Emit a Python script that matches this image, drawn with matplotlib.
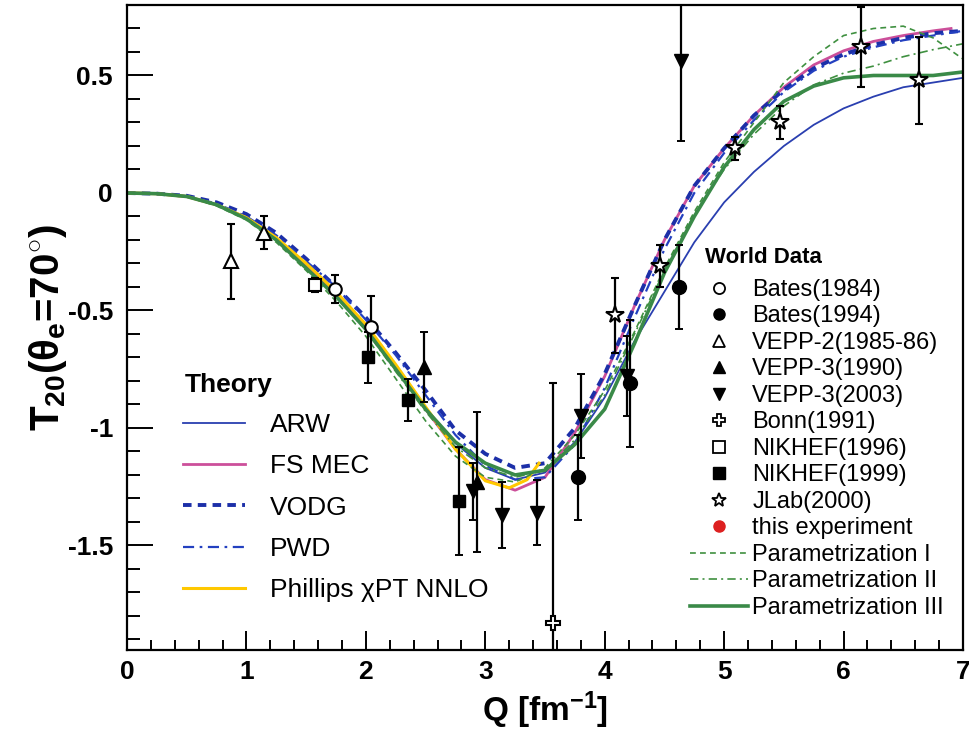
import matplotlib
matplotlib.use('Agg')
import matplotlib.pyplot as plt
from matplotlib.ticker import MultipleLocator, FuncFormatter

plt.rcParams['font.family'] = ['Liberation Sans', 'DejaVu Sans']
plt.rcParams['axes.unicode_minus'] = False
plt.rcParams['mathtext.fontset'] = 'custom'
plt.rcParams['mathtext.rm'] = 'Liberation Sans:bold'
plt.rcParams['mathtext.it'] = 'Liberation Sans:bold'
plt.rcParams['mathtext.bf'] = 'Liberation Sans:bold'

# theory curves (Q in fm^-1)
q_grid = [0, 0.25, 0.5, 0.75, 1.0, 1.25, 1.5, 1.75, 2.0, 2.25, 2.5, 2.75, 3.0, 3.25, 3.5,
          3.75, 4.0, 4.25, 4.5, 4.75, 5.0, 5.25, 5.5, 5.75, 6.0, 6.25, 6.5, 6.75, 7.0]
arw = [0, -0.003, -0.015, -0.05, -0.11, -0.2, -0.315, -0.435, -0.575, -0.745, -0.915, -1.065, -1.17, -1.22, -1.19,
       -1.06, -0.87, -0.63, -0.42, -0.21, -0.04, 0.09, 0.2, 0.29, 0.36, 0.41, 0.45, 0.47, 0.49]
fs_mec = [0, -0.003, -0.015, -0.05, -0.105, -0.195, -0.31, -0.43, -0.57, -0.74, -0.92, -1.09, -1.22, -1.265, -1.21,
          -1.02, -0.78, -0.48, -0.2, 0.03, 0.19, 0.33, 0.45, 0.545, 0.605, 0.645, 0.67, 0.69, 0.70]
vodg = [0, -0.003, -0.012, -0.04, -0.09, -0.17, -0.28, -0.4, -0.53, -0.68, -0.84, -1.01, -1.11, -1.17, -1.15,
        -1.0, -0.77, -0.48, -0.2, 0.03, 0.19, 0.33, 0.44, 0.53, 0.59, 0.63, 0.66, 0.68, 0.69]
pwd = [0, -0.003, -0.013, -0.045, -0.1, -0.18, -0.29, -0.4, -0.54, -0.69, -0.86, -1.03, -1.16, -1.22, -1.21,
       -1.07, -0.83, -0.53, -0.24, 0.0, 0.17, 0.31, 0.43, 0.52, 0.58, 0.62, 0.65, 0.67, 0.69]
par1 = [0, -0.003, -0.016, -0.055, -0.115, -0.21, -0.33, -0.46, -0.61, -0.79, -0.97, -1.12, -1.21, -1.23, -1.17,
        -1.03, -0.84, -0.59, -0.32, -0.08, 0.13, 0.3, 0.47, 0.58, 0.67, 0.70, 0.71, 0.66, 0.57]
par2 = [0, -0.003, -0.015, -0.05, -0.11, -0.2, -0.32, -0.44, -0.585, -0.76, -0.93, -1.08, -1.17, -1.21, -1.18,
        -1.05, -0.86, -0.6, -0.33, -0.09, 0.1, 0.25, 0.37, 0.46, 0.51, 0.54, 0.58, 0.61, 0.635]
par3 = [0, -0.003, -0.015, -0.05, -0.11, -0.2, -0.32, -0.44, -0.58, -0.75, -0.92, -1.06, -1.15, -1.2, -1.18,
        -1.07, -0.92, -0.64, -0.34, -0.1, 0.11, 0.27, 0.39, 0.455, 0.49, 0.5, 0.5, 0.5, 0.515]
q_fs = q_grid[:-1] + [6.9]
q_phil = [0, 0.25, 0.5, 0.75, 1.0, 1.25, 1.5, 1.75, 2.0, 2.25, 2.5, 2.75, 3.0, 3.2, 3.35, 3.45]
phillips = [0, -0.003, -0.015, -0.05, -0.105, -0.19, -0.3, -0.42, -0.56, -0.73, -0.91, -1.09, -1.225, -1.255, -1.22, -1.15]

# world data: Q, T20, error
bates84_q = [1.74, 2.04]
bates84_t = [-0.41, -0.57]
bates84_e = [0.06, 0.13]
bates94_q = [3.78, 4.21, 4.62]
bates94_t = [-1.21, -0.81, -0.40]
bates94_e = [0.18, 0.27, 0.18]
vepp2_q = [0.87, 1.15]
vepp2_t = [-0.29, -0.17]
vepp2_e = [0.16, 0.07]
vepp3a_q = [2.49, 2.93]
vepp3a_t = [-0.74, -1.23]
vepp3a_e = [0.15, 0.30]
vepp3b_q = [2.90, 3.14, 3.43, 3.80, 4.19, 4.64]
vepp3b_t = [-1.27, -1.37, -1.36, -0.95, -0.78, 0.56]
vepp3b_e = [0.12, 0.14, 0.14, 0.18, 0.17, 0.34]
bonn_q = [3.57]
bonn_t = [-1.83]
bonn_e = [1.02]
nik96_q = [1.57]
nik96_t = [-0.39]
nik96_e = [0.03]
nik99_q = [2.02, 2.35, 2.78]
nik99_t = [-0.70, -0.88, -1.31]
nik99_e = [0.11, 0.09, 0.23]
jlab_q = [4.09, 4.46, 5.09, 5.47, 6.15, 6.63]
jlab_t = [-0.52, -0.31, 0.19, 0.30, 0.62, 0.48]
jlab_e = [0.16, 0.09, 0.05, 0.07, 0.17, 0.185]

theory_labels = ['ARW', 'FS MEC', 'VODG', 'PWD', 'Phillips χPT NNLO']
world_labels = ['Bates(1984)', 'Bates(1994)', 'VEPP-2(1985-86)', 'VEPP-3(1990)', 'VEPP-3(2003)',
                'Bonn(1991)', 'NIKHEF(1996)', 'NIKHEF(1999)', 'JLab(2000)', 'this experiment',
                'Parametrization I', 'Parametrization II', 'Parametrization III']

fig = plt.figure(figsize=(9.69, 7.4), dpi=100)
ax = fig.add_axes([127 / 969, 90 / 740, 836 / 969, 645 / 740])

# theory
h_arw, = ax.plot(q_grid, arw, color='#2a3fb0', lw=1.3)
h_fs, = ax.plot(q_fs, fs_mec, color='#cc4f9a', lw=2.0)
h_vodg, = ax.plot(q_grid, vodg, color='#1c2fa8', lw=2.8, dashes=(2.2, 1.6))
h_pwd, = ax.plot(q_grid, pwd, color='#2340c0', lw=1.6, dashes=(5, 2.5, 1.2, 2.5))
h_phil, = ax.plot(q_phil, phillips, color='#ffc800', lw=2.2)
h_p1, = ax.plot(q_grid, par1, color='#3f9040', lw=1.2, dashes=(3.5, 2.5))
h_p2, = ax.plot(q_grid, par2, color='#3f9040', lw=1.2, dashes=(5, 2.5, 1.2, 2.5))
h_p3, = ax.plot(q_grid, par3, color='#3a8a48', lw=2.6)

eb = dict(color='k', ecolor='k', elinewidth=1.6, capsize=3, capthick=1.4, linestyle='none', zorder=5)
open_kw = dict(markerfacecolor='white', markeredgecolor='k', markeredgewidth=1.5)
ax.errorbar(bates84_q, bates84_t, yerr=bates84_e, marker='o', ms=9, **open_kw, **eb)
ax.errorbar(bates94_q, bates94_t, yerr=bates94_e, marker='o', ms=10, **eb)
ax.errorbar(vepp2_q, vepp2_t, yerr=vepp2_e, marker='^', ms=10, **open_kw, **eb)
ax.errorbar(vepp3a_q, vepp3a_t, yerr=vepp3a_e, marker='^', ms=10, **eb)
ax.errorbar(vepp3b_q, vepp3b_t, yerr=vepp3b_e, marker='v', ms=10, **eb)
ax.errorbar(bonn_q, bonn_t, yerr=bonn_e, marker='P', ms=10, **open_kw, **eb)
ax.errorbar(nik96_q, nik96_t, yerr=nik96_e, marker='s', ms=9, **open_kw, **eb)
ax.errorbar(nik99_q, nik99_t, yerr=nik99_e, marker='s', ms=9, **eb)
ax.errorbar(jlab_q, jlab_t, yerr=jlab_e, marker='*', ms=13, **open_kw, **eb)

ax.set_xlim(0, 7)
ax.set_ylim(-1.945, 0.8)

ax.xaxis.set_major_locator(MultipleLocator(1))
ax.xaxis.set_minor_locator(MultipleLocator(0.2))
ax.yaxis.set_major_locator(MultipleLocator(0.5))
ax.yaxis.set_minor_locator(MultipleLocator(0.1))
ax.yaxis.set_major_formatter(FuncFormatter(lambda v, p: '%g' % round(v, 2)))
ax.tick_params(axis='x', which='major', direction='in', length=14, width=1.4, labelsize=19, pad=7)
ax.tick_params(axis='x', which='minor', direction='in', length=7, width=1.4)
ax.tick_params(axis='y', which='major', direction='in', length=19, width=1.4, labelsize=19, pad=10)
ax.tick_params(axis='y', which='minor', direction='in', length=9.5, width=1.4)
for lab in ax.get_xticklabels() + ax.get_yticklabels():
    lab.set_fontweight('bold')
for sp in ax.spines.values():
    sp.set_linewidth(1.6)

ax.set_xlabel(r'Q [fm$^{-1}$]', fontsize=24, fontweight='bold', labelpad=4)
ax.set_ylabel(r'T$_{20}$($\theta_e$=70$^{\circ}$)', fontsize=29, fontweight='bold', labelpad=-1)

# theory legend
ax.text(0.0694, 0.411, 'Theory', transform=ax.transAxes, fontsize=19, fontweight='bold',
        ha='left', va='center')
leg1 = ax.legend([h_arw, h_fs, h_vodg, h_pwd, h_phil], theory_labels,
                 loc='upper left', bbox_to_anchor=(0.067, 0.367), frameon=False,
                 fontsize=19, handlelength=2.35, handletextpad=0.95, labelspacing=0.65,
                 borderaxespad=0, borderpad=0)
ax.add_artist(leg1)

# world data legend
h_red, = ax.plot([], [], 'o', color='#dd2020', ms=8)
world_h = [
    plt.Line2D([], [], marker='o', ls='none', ms=8, mfc='white', mec='k', mew=1.3),
    plt.Line2D([], [], marker='o', ls='none', ms=8, color='k'),
    plt.Line2D([], [], marker='^', ls='none', ms=8, mfc='white', mec='k', mew=1.3),
    plt.Line2D([], [], marker='^', ls='none', ms=8, color='k'),
    plt.Line2D([], [], marker='v', ls='none', ms=8, color='k'),
    plt.Line2D([], [], marker='P', ls='none', ms=8, mfc='white', mec='k', mew=1.3),
    plt.Line2D([], [], marker='s', ls='none', ms=8, mfc='white', mec='k', mew=1.3),
    plt.Line2D([], [], marker='s', ls='none', ms=8, color='k'),
    plt.Line2D([], [], marker='*', ls='none', ms=10, mfc='white', mec='k', mew=1.3),
    h_red, h_p1, h_p2, h_p3,
]
ax.text(0.691, 0.608, 'World Data', transform=ax.transAxes, fontsize=16, fontweight='bold',
        ha='left', va='center')
ax.legend(world_h, world_labels, loc='upper left', bbox_to_anchor=(0.6734, 0.5752), frameon=False,
          fontsize=17, handlelength=2.47, handletextpad=0.17, labelspacing=0.19,
          borderaxespad=0, borderpad=0)

fig.savefig('out.png', dpi=100)
